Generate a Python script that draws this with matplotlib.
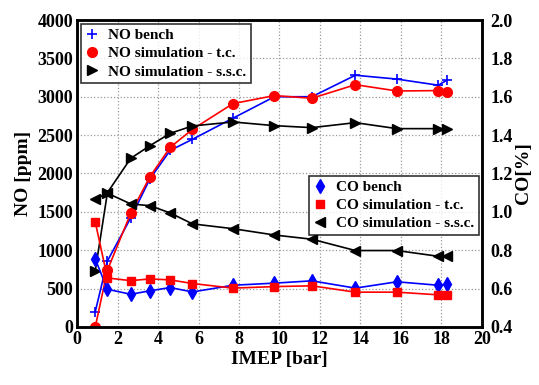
import matplotlib
matplotlib.use("Agg")
import matplotlib.pyplot as plt

imep = [0.9, 1.5, 2.65, 3.6, 4.6, 5.7, 7.7, 9.75, 11.6, 13.75, 15.8, 17.85, 18.3]

no_bench = [200, 860, 1420, 1930, 2300, 2445, 2720, 3000, 3000, 3280, 3230, 3150, 3220]
no_sim_tc = [0, 740, 1480, 1958, 2340, 2575, 2910, 3015, 2980, 3157, 3075, 3080, 3066]
no_sim_ssc = [733, 1750, 2197, 2362, 2523, 2619, 2671, 2623, 2597, 2662, 2584, 2584, 2584]

co_bench = [0.753, 0.596, 0.570, 0.588, 0.605, 0.582, 0.617, 0.628, 0.640, 0.602, 0.635, 0.617, 0.622]
co_sim_tc = [0.946, 0.655, 0.641, 0.650, 0.645, 0.626, 0.602, 0.610, 0.614, 0.581, 0.581, 0.567, 0.567]
co_sim_ssc = [1.067, 1.097, 1.041, 1.032, 0.994, 0.937, 0.912, 0.879, 0.857, 0.798, 0.798, 0.768, 0.768]

x_ticks = list(range(0, 21, 2))
no_ticks = list(range(0, 4001, 500))
co_ticks = [0.4, 0.6, 0.8, 1.0, 1.2, 1.4, 1.6, 1.8, 2.0]

plt.rcParams['font.family'] = ['Liberation Serif', 'DejaVu Serif']
plt.rcParams['font.weight'] = 'bold'

fig = plt.figure(figsize=(5.39, 3.85), dpi=100)
ax1 = fig.add_axes([0.143, 0.151, 0.751, 0.797])
ax2 = ax1.twinx()

lw = 1.2
h1, = ax1.plot(imep, no_bench, color='blue', marker='+', ms=7, mew=1.2, lw=lw, label='NO bench')
h2, = ax1.plot(imep, no_sim_tc, color='red', marker='o', ms=7, lw=lw, label='NO simulation - t.c.')
h3, = ax1.plot(imep, no_sim_ssc, color='black', marker='>', ms=7, lw=lw, label='NO simulation - s.s.c.')

g1, = ax2.plot(imep, co_bench, color='blue', marker='d', ms=7, lw=lw, label='CO bench')
g2, = ax2.plot(imep, co_sim_tc, color='red', marker='s', ms=5.5, lw=lw, label='CO simulation - t.c.')
g3, = ax2.plot(imep, co_sim_ssc, color='black', marker='<', ms=7, lw=lw, label='CO simulation - s.s.c.')

ax1.set_xlim(0, 20)
ax1.set_ylim(0, 4000)
ax2.set_ylim(0.4, 2.0)
ax1.set_xticks(x_ticks)
ax1.set_yticks(no_ticks)
ax2.set_yticks(co_ticks)
ax2.set_yticklabels([f"{v:.1f}" for v in co_ticks])

ax1.grid(True, color='#999999', linestyle=':', linewidth=0.9)
ax1.set_axisbelow(True)

ax1.tick_params(labelsize=13, length=0, pad=3)
ax2.tick_params(labelsize=13, length=0, pad=6)
for ax in (ax1, ax2):
    for lab in ax.get_xticklabels() + ax.get_yticklabels():
        lab.set_fontweight('bold')
    for s in ax.spines.values():
        s.set_linewidth(1.8)

ax1.set_xlabel('IMEP [bar]', fontsize=14, fontweight='bold', labelpad=2)
ax1.set_ylabel('NO [ppm]', fontsize=14, fontweight='bold', labelpad=4)
ax2.set_ylabel('CO[%]', fontsize=14, fontweight='bold', labelpad=2)

common = dict(fontsize=11, frameon=True, fancybox=False, edgecolor='black',
              handlelength=0.8, handletextpad=0.7, borderpad=0.3, labelspacing=0.3)

leg1 = ax2.legend(handles=[h1, h2, h3], loc='upper left', bbox_to_anchor=(0.0, 1.0),
                  borderaxespad=0.25, **common)
leg1.get_frame().set_linewidth(1.2)
for t in leg1.get_texts():
    t.set_fontweight('bold')
for lh in leg1.get_lines():
    lh.set_linestyle('none')
ax2.add_artist(leg1)

leg2 = ax2.legend(handles=[g1, g2, g3], loc='upper right', bbox_to_anchor=(0.993, 0.493),
                  borderaxespad=0.0, **common)
leg2.get_frame().set_linewidth(1.2)
for t in leg2.get_texts():
    t.set_fontweight('bold')
for lh in leg2.get_lines():
    lh.set_linestyle('none')

fig.savefig('out.png', dpi=100)
